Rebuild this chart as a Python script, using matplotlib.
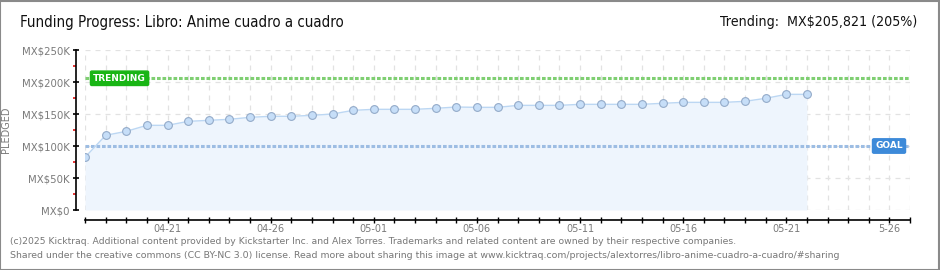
import numpy as np
import pandas as pd
import matplotlib
matplotlib.use("Agg")
import matplotlib.pyplot as plt
import matplotlib.dates as mdates
from matplotlib.patches import Rectangle

# daily pledged totals (MX$), 2025-04-17 .. 2025-05-22
start_date = "2025-04-17"
pledged = [82300, 116700, 122900, 132300, 132300, 138500, 140100, 141700, 144800,
           146400, 146400, 147900, 150000, 155700, 157300, 157300, 157300, 158900,
           160900, 160400, 160400, 163500, 163500, 163500, 165100, 165100, 165100,
           165100, 166700, 168200, 168200, 168200, 169800, 174500, 180700, 180700]
goal = 100000
trending = 205821
trending_pct = 205
tick_labels = ["04-21", "04-26", "05-01", "05-06", "05-11", "05-16", "05-21", "5-26"]
y_labels = ["MX$0", "MX$50K", "MX$100K", "MX$150K", "MX$200K", "MX$250K"]

dates = pd.date_range(start_date, periods=len(pledged), freq="D")
label_dates = pd.date_range("2025-04-21", periods=len(tick_labels), freq="5D")

PX = 72 / 100  # points per pixel

fig = plt.figure(figsize=(9.4, 2.7), dpi=100)
fig.patches.append(Rectangle((0.0005, 0.001), 0.998, 0.996, transform=fig.transFigure,
                             fill=False, edgecolor="#8a8a8a", linewidth=1.5))

ax = fig.add_axes([85/940, 1-210/270, 825/940, 160/270])
ax.set_xlim(pd.Timestamp("2025-04-17"), pd.Timestamp("2025-05-27"))
ax.set_ylim(0, 250000)

# grid
for d in pd.date_range("2025-04-17", "2025-05-27", freq="D"):
    ax.axvline(d, color="#e2e2e2", linewidth=0.9, linestyle=(0, (4, 4)), zorder=0)
for v in range(0, 250001, 50000):
    ax.axhline(v, color="#e2e2e2", linewidth=0.9, linestyle=(0, (4, 4)), zorder=0)

# pledged series
ax.fill_between(dates, pledged, 0, color="#eef5fd", zorder=1, linewidth=0)
ax.plot(dates, pledged, color="#bcd7f3", linewidth=1.0, zorder=3,
        marker="o", markersize=5.6, markerfacecolor="#c6def8",
        markeredgecolor="#94abc9", markeredgewidth=0.8)

# goal / trending lines
ax.axhline(trending, color="#7fcf72", linewidth=2.2, linestyle=(0, (1.2, 0.6)), zorder=2)
ax.axhline(goal, color="#9dbde3", linewidth=2.2, linestyle=(0, (1.2, 0.6)), zorder=2)

ax.text(pd.Timestamp("2025-04-17 09:30"), trending, "TRENDING", color="white",
        fontsize=6.5, fontweight="bold", va="center", ha="left", zorder=5,
        bbox=dict(boxstyle="round,pad=0.3,rounding_size=0.15", facecolor="#19b515",
                  edgecolor="#19b515"))
ax.text(pd.Timestamp("2025-05-25 07:30"), goal, "GOAL", color="white",
        fontsize=6.5, fontweight="bold", va="center", ha="left", zorder=5,
        bbox=dict(boxstyle="round,pad=0.3,rounding_size=0.15", facecolor="#3d8ad9",
                  edgecolor="#3d8ad9"))

# axes styling
for s in ["top", "right"]:
    ax.spines[s].set_visible(False)
ax.spines["left"].set_position(("outward", 9 * PX))
ax.spines["bottom"].set_position(("outward", 10 * PX))
ax.spines["left"].set_linewidth(1.2)
ax.spines["bottom"].set_linewidth(1.2)

ax.set_yticks(range(0, 250001, 50000))
ax.set_yticklabels(y_labels)
ax.set_yticks(range(25000, 250000, 50000), minor=True)
ax.tick_params(axis="y", which="major", direction="inout", length=5, width=1.2,
               color="black", labelsize=7.3, labelcolor="#7a7a7a", pad=2)
ax.tick_params(axis="y", which="minor", direction="out", length=2.5, width=1.2, color="#e01010")

ax.set_xticks(label_dates)
ax.set_xticklabels(tick_labels)
ax.xaxis.set_minor_locator(mdates.DayLocator())
ax.tick_params(axis="x", which="both", direction="inout", length=4, width=1.0,
               color="black", labelsize=7, labelcolor="#7a7a7a", pad=1)

ax.set_ylabel("PLEDGED", fontsize=7, color="#7a7a7a")
ax.yaxis.set_label_coords(-74/825, 0.5)

# texts
fig.text(20/940, 1-23/270, "Funding Progress: Libro: Anime cuadro a cuadro",
         fontsize=10.8, fontstretch="condensed", va="center", ha="left", color="#111111")
fig.text(917/940, 1-22/270, "Trending:  MX$%s (%d%%)" % (format(trending, ","), trending_pct),
         fontsize=10.2, fontstretch="condensed", va="center", ha="right", color="#111111")
fig.text(10/940, 1-242/270,
         "(c)2025 Kicktraq. Additional content provided by Kickstarter Inc. and Alex Torres. "
         "Trademarks and related content are owned by their respective companies.",
         fontsize=6.65, va="center", ha="left", color="#777777")
fig.text(10/940, 1-256/270,
         "Shared under the creative commons (CC BY-NC 3.0) license. Read more about sharing this "
         "image at www.kicktraq.com/projects/alextorres/libro-anime-cuadro-a-cuadro/#sharing",
         fontsize=6.75, va="center", ha="left", color="#777777")

fig.savefig("out.png", dpi=100)
